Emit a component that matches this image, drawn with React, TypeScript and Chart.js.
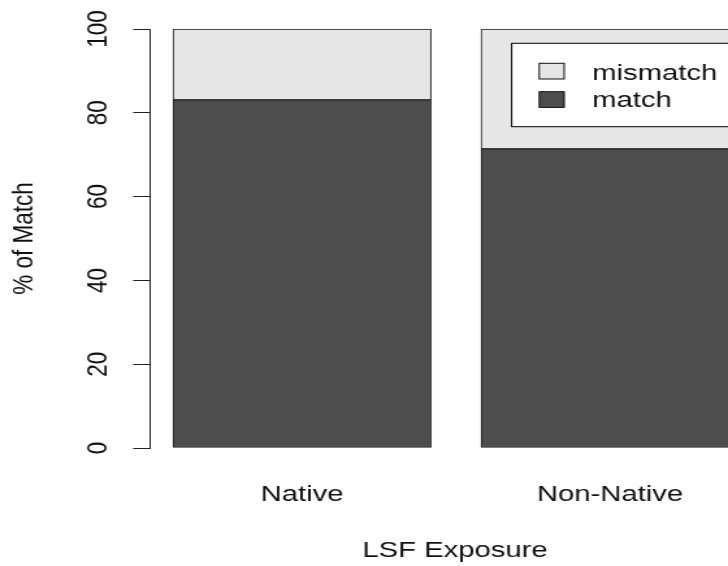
import { useEffect, useRef } from "react";
import { Chart, registerables } from "chart.js";

Chart.register(...registerables);

// ---- data ----
const categories = ["Native", "Non-Native"];
const matchPct = [83.1, 71.4];
const mismatchPct = [16.9, 28.6];
const seriesNames = ["match", "mismatch"];
const seriesColors = ["#4D4D4D", "#E6E6E6"];
const yTickValues = [0, 20, 40, 60, 80, 100];
const xTitle = "LSF Exposure";
const yTitle = "% of Match";

// ---- drawing constants (intrinsic canvas is stretched horizontally) ----
const W = 560;
const H = 566;
const CSS_W = 728;
const FONT = "'Liberation Sans', Arial, Helvetica, sans-serif";
const FS = 22.5;
const TEXT = "#111";

// R-style legend box plus the x-axis title centred on R's (wider, cropped) plot region
const annotPlugin = {
  id: "rAnnot",
  afterDraw(chart: any) {
    const ctx = chart.ctx;
    const ds = chart.data.datasets;
    ctx.save();
    ctx.font = `${FS}px ${FONT}`;

    // x-axis title
    ctx.fillStyle = TEXT;
    ctx.textAlign = "center";
    ctx.textBaseline = "middle";
    ctx.fillText(xTitle, 350, 550.5);

    // legend
    ctx.fillStyle = "#ffffff";
    ctx.strokeStyle = "#000";
    ctx.lineWidth = 1;
    ctx.fillRect(393.6, 43.3, 400, 83.4);
    ctx.strokeRect(393.6, 43.3, 400, 83.4);
    const order = [1, 0];
    const boxY = [63.3, 91.7];
    const textY = [73.6, 100.4];
    ctx.textAlign = "left";
    order.forEach((di: number, k: number) => {
      ctx.fillStyle = ds[di].backgroundColor;
      ctx.fillRect(414.8, boxY[k], 19.2, 15.7);
      ctx.strokeStyle = "#111";
      ctx.strokeRect(414.8, boxY[k], 19.2, 15.7);
      ctx.fillStyle = TEXT;
      ctx.fillText(ds[di].label, 455.6, textY[k]);
    });
    ctx.restore();
  },
};

export default function App() {
  const ref = useRef<HTMLCanvasElement | null>(null);

  useEffect(() => {
    if (!ref.current) return;
    const makeData = (vals: number[]) =>
      categories.map((_, i) => ({ x: i + 1, y: vals[i] }));

    const chart = new Chart(ref.current, {
      type: "bar",
      data: {
        datasets: [
          {
            label: seriesNames[0],
            data: makeData(matchPct),
            backgroundColor: seriesColors[0],
            borderColor: "#1a1a1a",
            borderWidth: 1,
            borderSkipped: false,
            barThickness: 198.5,
          },
          {
            label: seriesNames[1],
            data: makeData(mismatchPct),
            backgroundColor: seriesColors[1],
            borderColor: "#1a1a1a",
            borderWidth: 1,
            borderSkipped: false,
            barThickness: 198.5,
          },
        ],
      },
      options: {
        animation: false,
        responsive: false,
        devicePixelRatio: 1,
        layout: { padding: { top: 29, left: 0, right: 0, bottom: 0 } },
        plugins: {
          legend: { display: false },
          tooltip: { enabled: false },
        },
        scales: {
          x: {
            type: "linear",
            stacked: true,
            offset: false,
            min: 0.5065,
            max: 2.383,
            afterBuildTicks: (scale: any) => {
              scale.ticks = categories.map((_, i) => ({ value: i + 1 }));
            },
            afterFit: (scale: any) => {
              scale.height = H - 448;
            },
            grid: { display: false, drawTicks: false },
            border: { display: false },
            ticks: {
              autoSkip: false,
              maxRotation: 0,
              minRotation: 0,
              padding: 33.5,
              color: TEXT,
              font: { family: FONT, size: FS },
              callback: (v: any) => categories[Math.round(Number(v)) - 1] ?? "",
            },
            title: { display: false },
          },
          y: {
            type: "linear",
            stacked: true,
            min: 0,
            max: 100,
            afterBuildTicks: (scale: any) => {
              scale.ticks = yTickValues.map((v) => ({ value: v }));
            },
            afterFit: (scale: any) => {
              scale.width = 115.4;
            },
            grid: {
              drawOnChartArea: false,
              drawTicks: true,
              tickLength: 13,
              color: "#222",
              lineWidth: 1,
            },
            border: { display: true, color: "#222", width: 1 },
            ticks: {
              minRotation: 90,
              maxRotation: 90,
              crossAlign: "center",
              padding: 8.2,
              color: TEXT,
              font: { family: FONT, size: FS },
            },
            title: {
              display: true,
              text: yTitle,
              color: TEXT,
              font: { family: FONT, size: FS },
              padding: { top: 5.5, bottom: 0 },
            },
          },
        },
      } as any,
      plugins: [annotPlugin],
    });
    return () => chart.destroy();
  }, []);

  return (
    <div style={{ position: "fixed", left: 0, top: 0, width: CSS_W, height: H, background: "#fff" }}>
      <canvas
        ref={ref}
        width={W}
        height={H}
        style={{ width: `${CSS_W}px`, height: `${H}px`, display: "block" }}
      />
    </div>
  );
}
